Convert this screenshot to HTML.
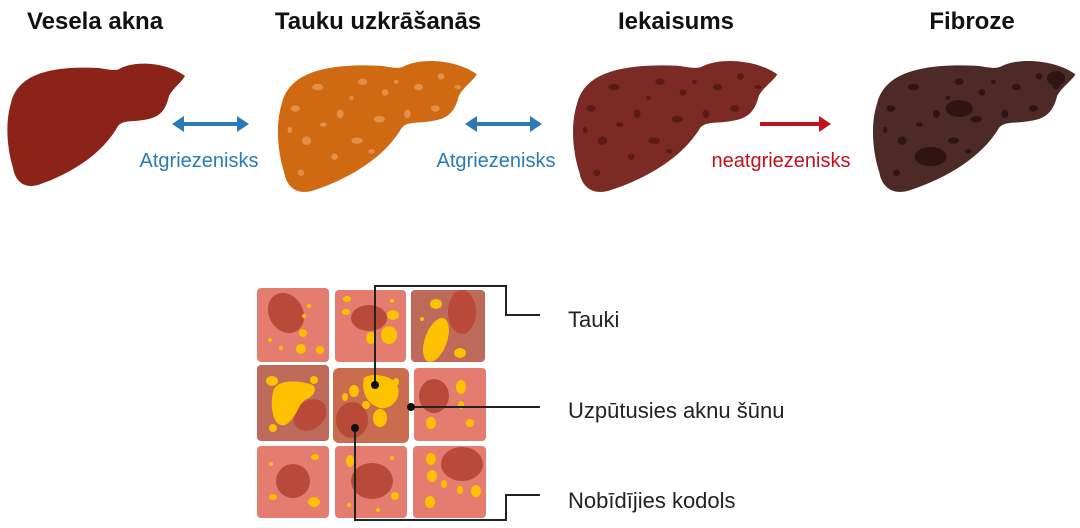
<!DOCTYPE html>
<html><head><meta charset="utf-8"><style>
body{margin:0;width:1080px;height:528px;background:#fff;overflow:hidden}
svg{display:block}
text{font-family:"Liberation Sans",sans-serif}
</style></head><body>
<svg width="1080" height="528" viewBox="0 0 1080 528">
<defs>
<path id="lv" d="M8,45 C15,15 50,8 95,10 C105,11 112,14 118,10 C135,2 165,5 182,18 C178,25 170,30 166,38 C162,55 155,60 140,62 C128,64 120,62 115,68 C100,95 70,115 35,127 C20,131 12,122 10,110 C4,90 2,65 8,45 Z"/>
<clipPath id="lc"><use href="#lv"/></clipPath>
<g id="spots">
<ellipse cx="20" cy="50" rx="4" ry="3"/><ellipse cx="40" cy="30" rx="5" ry="3"/><ellipse cx="60" cy="55" rx="3" ry="4"/><ellipse cx="80" cy="25" rx="4" ry="3"/><ellipse cx="95" cy="60" rx="5" ry="3"/><ellipse cx="30" cy="80" rx="4" ry="4"/><ellipse cx="55" cy="95" rx="3" ry="3"/><ellipse cx="75" cy="80" rx="5" ry="3"/><ellipse cx="130" cy="30" rx="4" ry="3"/><ellipse cx="150" cy="20" rx="3" ry="3"/><ellipse cx="145" cy="50" rx="4" ry="3"/><ellipse cx="120" cy="55" rx="3" ry="4"/><ellipse cx="165" cy="30" rx="3" ry="2"/><ellipse cx="25" cy="110" rx="3" ry="3"/><ellipse cx="45" cy="65" rx="3" ry="2"/><ellipse cx="100" cy="35" rx="3" ry="3"/><ellipse cx="70" cy="40" rx="2" ry="2"/><ellipse cx="15" cy="70" rx="2" ry="3"/><ellipse cx="88" cy="90" rx="3" ry="2"/><ellipse cx="110" cy="25" rx="2" ry="2"/>
</g>
</defs>
<g fill="#111" font-weight="bold" font-size="24" text-anchor="middle">
<text x="95" y="29">Vesela akna</text>
<text x="378" y="29">Tauku uzkrāšanās</text>
<text x="676" y="29">Iekaisums</text>
<text x="972" y="29">Fibroze</text>
</g>
<g transform="translate(3,58)"><use href="#lv" fill="#8b2318"/></g>
<g transform="translate(273,55) scale(1.12,1.07)"><use href="#lv" fill="#cf6a12"/><g clip-path="url(#lc)" fill="#e0904a"><use href="#spots"/></g></g>
<g transform="translate(568,55) scale(1.15,1.07)"><use href="#lv" fill="#7c2a24"/><g clip-path="url(#lc)" fill="#5a1a16"><use href="#spots"/></g></g>
<g transform="translate(868,55) scale(1.14,1.07)"><use href="#lv" fill="#4e2a26"/><g clip-path="url(#lc)" fill="#2e1512"><use href="#spots"/><ellipse cx="80" cy="50" rx="12" ry="8"/><ellipse cx="55" cy="95" rx="14" ry="9"/><ellipse cx="165" cy="22" rx="8" ry="7"/></g></g>
<g stroke="#2a7ab8" stroke-width="4" fill="#2a7ab8">
<line x1="180" y1="124" x2="240" y2="124"/><path d="M172,124 L184,116 L184,132Z" stroke="none"/><path d="M249,124 L237,116 L237,132Z" stroke="none"/>
<line x1="473" y1="124" x2="533" y2="124"/><path d="M465,124 L477,116 L477,132Z" stroke="none"/><path d="M542,124 L530,116 L530,132Z" stroke="none"/>
</g>
<g stroke="#c0111d" stroke-width="4" fill="#c0111d"><line x1="760" y1="124" x2="822" y2="124"/><path d="M831,124 L819,116 L819,132Z" stroke="none"/></g>
<g font-size="20" text-anchor="middle">
<text x="199" y="167" fill="#2a7ab8">Atgriezenisks</text>
<text x="496" y="167" fill="#2a7ab8">Atgriezenisks</text>
<text x="781" y="167" fill="#c0111d">neatgriezenisks</text>
</g>
<g>
<rect x="257" y="288" width="72" height="74" rx="4" fill="#e57c70"/>
<rect x="335" y="290" width="71" height="72" rx="4" fill="#e57c70"/>
<rect x="411" y="290" width="74" height="72" rx="4" fill="#bd6a5a"/>
<rect x="257" y="365" width="72" height="76" rx="4" fill="#bd6a5a"/>
<rect x="333" y="368" width="76" height="75" rx="6" fill="#c96d4e"/>
<rect x="414" y="368" width="72" height="73" rx="4" fill="#e57c70"/>
<rect x="257" y="446" width="72" height="72" rx="4" fill="#e57c70"/>
<rect x="335" y="446" width="72" height="72" rx="4" fill="#e57c70"/>
<rect x="413" y="446" width="73" height="72" rx="4" fill="#e57c70"/>
</g>
<g fill="#b94a3a">
<ellipse cx="286" cy="313" rx="17" ry="21" transform="rotate(-30 286 313)"/>
<ellipse cx="369" cy="318" rx="18" ry="13"/>
<ellipse cx="462" cy="312" rx="14" ry="22"/>
<ellipse cx="310" cy="415" rx="18" ry="14" transform="rotate(-40 310 415)"/>
<ellipse cx="352" cy="420" rx="16" ry="18"/>
<ellipse cx="434" cy="396" rx="15" ry="17"/>
<ellipse cx="293" cy="481" rx="17" ry="17"/>
<ellipse cx="372" cy="481" rx="21" ry="18"/>
<ellipse cx="462" cy="464" rx="21" ry="17"/>
</g>
<g fill="#fcc200">
<circle cx="309" cy="306" r="2"/><circle cx="303" cy="333" r="4"/><circle cx="301" cy="349" r="5"/><circle cx="320" cy="350" r="4"/><circle cx="270" cy="340" r="2"/><circle cx="281" cy="348" r="2"/><circle cx="304" cy="316" r="2"/><circle cx="304" cy="332" r="2"/>
<ellipse cx="347" cy="299" rx="4" ry="3"/><ellipse cx="346" cy="312" rx="4" ry="3"/><ellipse cx="393" cy="315" rx="6" ry="5"/><ellipse cx="389" cy="335" rx="8" ry="9"/><ellipse cx="371" cy="338" rx="5" ry="6"/><circle cx="392" cy="301" r="2"/>
<ellipse cx="436" cy="340" rx="11" ry="23" transform="rotate(20 436 340)"/><ellipse cx="436" cy="304" rx="6" ry="5"/><ellipse cx="460" cy="353" rx="6" ry="5"/><circle cx="422" cy="319" r="2"/>
<path d="M273,392 C276,378 300,381 310,384 C318,386 316,396 305,400 C298,404 296,420 285,425 C272,428 270,405 273,392Z"/><ellipse cx="272" cy="381" rx="6" ry="5"/><ellipse cx="314" cy="380" rx="4" ry="4"/><ellipse cx="273" cy="428" rx="4" ry="4"/>
<path d="M364,378 C372,372 395,375 398,388 C401,400 390,410 380,408 C370,405 360,395 364,378Z"/><ellipse cx="354" cy="391" rx="5" ry="6"/><ellipse cx="345" cy="397" rx="3" ry="4"/><ellipse cx="380" cy="418" rx="7" ry="9"/><ellipse cx="366" cy="405" rx="4" ry="4"/><ellipse cx="396" cy="382" rx="3" ry="4"/>
<ellipse cx="461" cy="387" rx="5" ry="7"/><ellipse cx="431" cy="423" rx="5" ry="6"/><ellipse cx="470" cy="423" rx="4" ry="4"/><ellipse cx="461" cy="405" rx="3" ry="4"/>
<ellipse cx="273" cy="497" rx="4" ry="3"/><ellipse cx="314" cy="502" rx="6" ry="5"/><ellipse cx="315" cy="457" rx="4" ry="3"/><circle cx="271" cy="464" r="2"/>
<ellipse cx="350" cy="461" rx="4" ry="6"/><ellipse cx="395" cy="496" rx="4" ry="4"/><circle cx="392" cy="458" r="2"/><circle cx="349" cy="505" r="2"/><circle cx="378" cy="510" r="2"/>
<ellipse cx="431" cy="459" rx="5" ry="6"/><ellipse cx="432" cy="476" rx="5" ry="6"/><ellipse cx="444" cy="484" rx="3" ry="4"/><ellipse cx="430" cy="502" rx="5" ry="6"/><ellipse cx="460" cy="490" rx="3" ry="4"/><ellipse cx="476" cy="491" rx="5" ry="6"/>
</g>
<g stroke="#222" stroke-width="2" fill="none">
<polyline points="375,385 375,286 506,286 506,315 540,315"/>
<polyline points="411,407 540,407"/>
<polyline points="355,428 355,520 506,520 506,495 540,495"/>
</g>
<g fill="#111"><circle cx="375" cy="385" r="4"/><circle cx="411" cy="407" r="4"/><circle cx="355" cy="428" r="4"/></g>
<g font-size="22" fill="#222">
<text x="568" y="327">Tauki</text>
<text x="568" y="418">Uzpūtusies aknu šūnu</text>
<text x="568" y="508">Nobīdījies kodols</text>
</g>
</svg>
</body></html>
